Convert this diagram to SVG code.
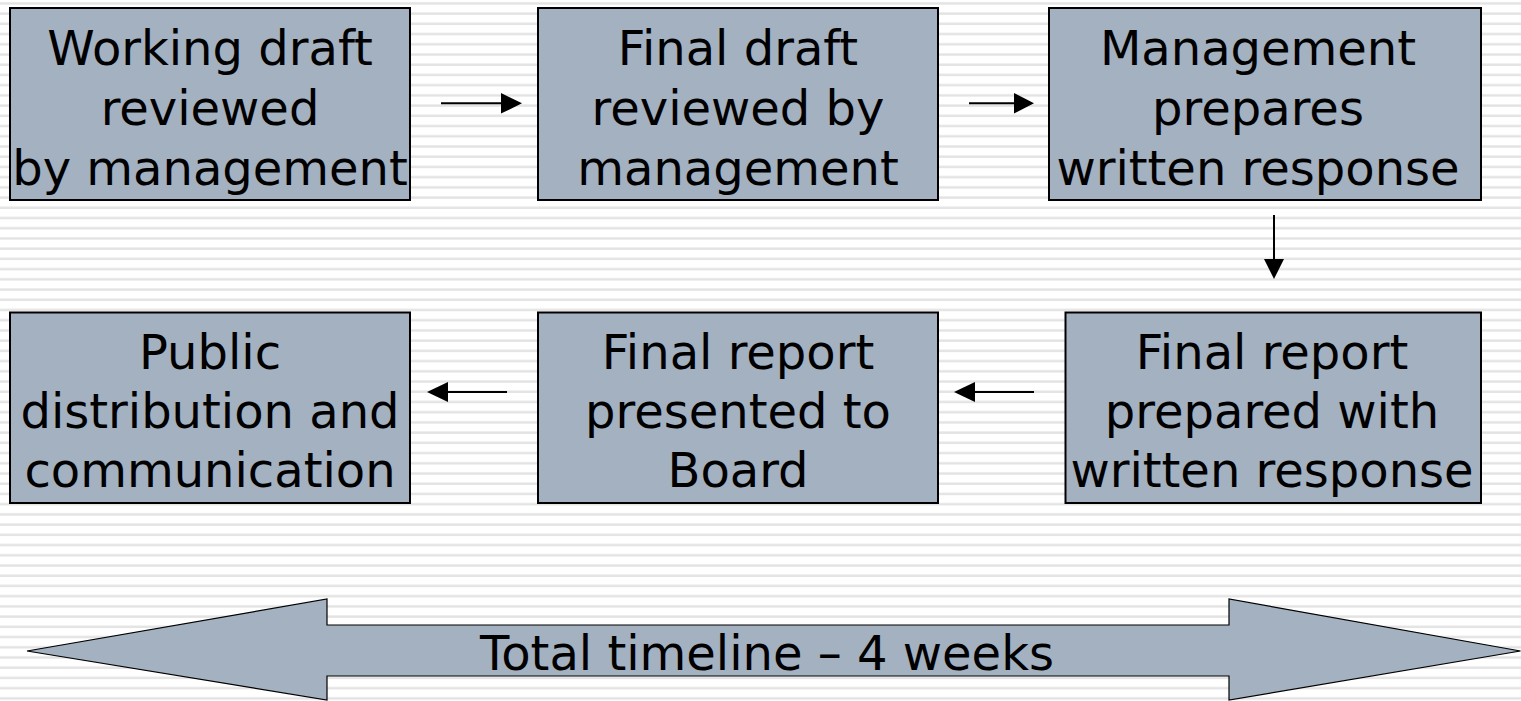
<svg xmlns="http://www.w3.org/2000/svg" width="1521" height="701" viewBox="0 0 1521 701">
  <defs>
    <pattern id="stripes" patternUnits="userSpaceOnUse" x="0" y="0" width="40" height="10.22">
      <rect x="0" y="0" width="40" height="10.22" fill="#ffffff"/>
      <rect x="0" y="2.2" width="40" height="2.4" fill="#e3e3e3"/>
    </pattern>
  </defs>
  <style>
    .box { fill: #a3b1c0; stroke: #000; stroke-width: 2; }
    .lbl { font-family: "DejaVu Sans", Verdana, sans-serif; font-size: 48px; fill: #000; text-anchor: middle; }
    .conn { stroke: #000; stroke-width: 2; fill: none; }
    .head { fill: #000; }
    .big { fill: #a3b1c0; stroke: #000; stroke-width: 1.2; }
  </style>
  <rect x="0" y="0" width="1521" height="701" fill="url(#stripes)"/>

  <g id="n1">
    <rect class="box" x="10" y="8" width="400" height="192"/>
    <text class="lbl" x="210" y="65">Working draft</text>
    <text class="lbl" x="210" y="125">reviewed</text>
    <text class="lbl" x="210" y="185">by management</text>
  </g>
  <g id="n2">
    <rect class="box" x="538" y="8" width="400" height="192"/>
    <text class="lbl" x="738" y="65">Final draft</text>
    <text class="lbl" x="738" y="125">reviewed by</text>
    <text class="lbl" x="738" y="185">management</text>
  </g>
  <g id="n3">
    <rect class="box" x="1049" y="8" width="432" height="192"/>
    <text class="lbl" x="1258" y="65">Management</text>
    <text class="lbl" x="1258" y="125">prepares</text>
    <text class="lbl" x="1258" y="185">written response</text>
  </g>
  <g id="n4">
    <rect class="box" x="1065.5" y="312.5" width="415.5" height="190.5"/>
    <text class="lbl" x="1272" y="369">Final report</text>
    <text class="lbl" x="1272" y="428">prepared with</text>
    <text class="lbl" x="1272" y="487">written response</text>
  </g>
  <g id="n5">
    <rect class="box" x="538" y="312.5" width="400" height="190.5"/>
    <text class="lbl" x="738" y="369">Final report</text>
    <text class="lbl" x="738" y="428">presented to</text>
    <text class="lbl" x="738" y="487">Board</text>
  </g>
  <g id="n6">
    <rect class="box" x="10" y="312.5" width="400" height="190.5"/>
    <text class="lbl" x="210" y="369">Public</text>
    <text class="lbl" x="210" y="428">distribution and</text>
    <text class="lbl" x="210" y="487">communication</text>
  </g>

  <g id="connectors">
    <line class="conn" x1="441" y1="103.3" x2="503" y2="103.3"/>
    <path class="head" d="M501,93 L522,103.3 L501,113.6 Z"/>
    <line class="conn" x1="969" y1="103.3" x2="1016" y2="103.3"/>
    <path class="head" d="M1014,93 L1034,103.3 L1014,113.6 Z"/>
    <line class="conn" x1="1274" y1="215" x2="1274" y2="261"/>
    <path class="head" d="M1264,259 L1274,279 L1284,259 Z"/>
    <line class="conn" x1="1034" y1="392" x2="973" y2="392"/>
    <path class="head" d="M975,382 L954,392 L975,402 Z"/>
    <line class="conn" x1="507" y1="392" x2="446" y2="392"/>
    <path class="head" d="M448,382 L427,392 L448,402 Z"/>
  </g>

  <g id="timeline">
    <path class="big" d="M27,651 L327,599 L327,625 L1229,625 L1229,599 L1520.5,651 L1229,700 L1229,676 L327,676 L327,700 Z"/>
    <text class="lbl" x="767" y="670">Total timeline – 4 weeks</text>
  </g>
</svg>
